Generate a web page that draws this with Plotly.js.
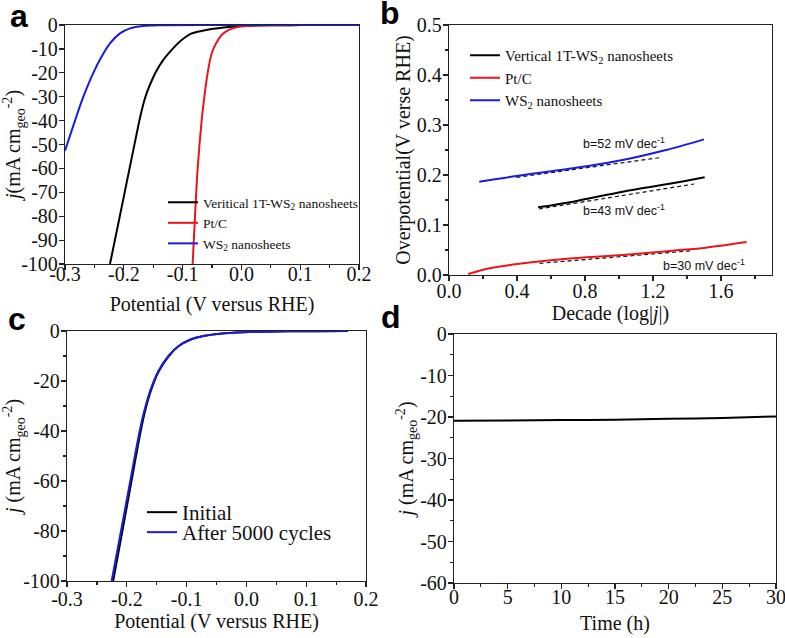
<!DOCTYPE html>
<html>
<head>
<meta charset="utf-8">
<script src="https://cdn.plot.ly/plotly-3.0.1.min.js"></script>
<style>html,body{margin:0;padding:0;background:#fff;}#chart{width:785px;height:638px;}</style>
</head>
<body>
<div id="chart"></div>
<script>
// ---------- Panel a: LSV curves ----------
const aVert_x = [-0.2235, -0.2068, -0.1902, -0.1777, -0.1735, -0.1688, -0.1632, -0.1555, -0.1462, -0.134, -0.117, -0.1016, -0.0845, -0.066, -0.048, -0.03, -0.012, 0.01, 0.035, 0.08, 0.13, 0.2];
const aVert_y = [-100, -80, -60, -45, -40, -35, -30, -25, -20, -15, -10, -6.3, -3.5, -2.4, -1.6, -1.0, -0.6, -0.3, -0.15, -0.07, -0.03, 0];
const aPtC_x = [-0.0829, -0.0789, -0.0744, -0.0676, -0.063, -0.0574, -0.0506, -0.0432, -0.0336, -0.0222, -0.008, 0.009, 0.05, 0.1, 0.2];
const aPtC_y = [-100, -80, -60, -40, -30, -20, -11.9, -7.7, -4.2, -2.1, -1, -0.4, -0.1, -0.05, 0];
const aWS2_x = [-0.3, -0.283, -0.2688, -0.2518, -0.2376, -0.2235, -0.2065, -0.1895, -0.1668, -0.1384, -0.05, 0.2];
const aWS2_y = [-52.6, -40, -30, -20, -13.2, -7.7, -3.5, -1.4, -0.4, -0.1, 0, 0];
const aXTicks = [-0.3, -0.2, -0.1, 0, 0.1, 0.2];
const aXLabels = ["-0.3", "-0.2", "-0.1", "0.0", "0.1", "0.2"];
const aYTicks = [0, -10, -20, -30, -40, -50, -60, -70, -80, -90, -100];
const aYLabels = ["0", "-10", "-20", "-30", "-40", "-50", "-60", "-70", "-80", "-90", "-100"];

// ---------- Panel b: Tafel plots ----------
const bWS2_x = [0.178, 0.397, 0.729, 1.022, 1.276, 1.5];
const bWS2_y = [0.1867, 0.198, 0.2133, 0.23, 0.25, 0.2713];
const bWS2Fit_x = [0.397, 1.252];
const bWS2Fit_y = [0.1953, 0.2353];
const bVert_x = [0.524, 0.729, 1.022, 1.315, 1.504];
const bVert_y = [0.1353, 0.1467, 0.1667, 0.1833, 0.1953];
const bVertFit_x = [0.529, 1.442];
const bVertFit_y = [0.132, 0.182];
const bPtC_x = [0.113, 0.24, 0.436, 0.729, 1.022, 1.315, 1.51, 1.75];
const bPtC_y = [0.002, 0.0133, 0.0233, 0.0333, 0.04, 0.0487, 0.0547, 0.066];
const bPtCFit_x = [0.533, 1.432];
const bPtCFit_y = [0.0233, 0.0487];
const bTafelLabels = ["b=52 mV dec<sup>-1</sup>", "b=43 mV dec<sup>-1</sup>", "b=30 mV dec<sup>-1</sup>"];
const bTafelLabel_x = [1.03, 1.03, 1.5];
const bTafelLabel_y = [0.264, 0.13, 0.021];
const bXTicks = [0, 0.4, 0.8, 1.2, 1.6];
const bXLabels = ["0.0", "0.4", "0.8", "1.2", "1.6"];
const bYTicks = [0, 0.1, 0.2, 0.3, 0.4, 0.5];
const bYLabels = ["0.0", "0.1", "0.2", "0.3", "0.4", "0.5"];

// ---------- Panel c: cycling stability ----------
const cInit_x = [-0.2228, -0.2074, -0.1921, -0.179, -0.1709, -0.16, -0.1465, -0.1301, -0.1136, -0.0942, -0.072, -0.044, -0.005, 0.025, 0.07, 0.12, 0.17];
const cAfter_x = [-0.2253, -0.2097, -0.1942, -0.1808, -0.1724, -0.1612, -0.1473, -0.1306, -0.1139, -0.0943, -0.072, -0.044, -0.005, 0.025, 0.07, 0.12, 0.17];
const cCurrent_y = [-100, -80, -60, -42.8, -33.5, -24.1, -16.1, -10.1, -6.1, -3.5, -2.0, -1.1, -0.5, -0.3, -0.12, -0.05, 0];
const cXTicks = [-0.3, -0.2, -0.1, 0, 0.1, 0.2];
const cXLabels = ["-0.3", "-0.2", "-0.1", "0.0", "0.1", "0.2"];
const cYTicks = [0, -20, -40, -60, -80, -100];
const cYLabels = ["0", "-20", "-40", "-60", "-80", "-100"];

// ---------- Panel d: chronoamperometry ----------
const dTime = [0, 5, 10, 15, 20, 25, 30];
const dCurrent = [-20.9, -20.85, -20.75, -20.65, -20.45, -20.25, -19.85];
const dXTicks = [0, 5, 10, 15, 20, 25, 30];
const dXLabels = ["0", "5", "10", "15", "20", "25", "30"];
const dYTicks = [0, -10, -20, -30, -40, -50, -60];
const dYLabels = ["0", "-10", "-20", "-30", "-40", "-50", "-60"];

const SERIF = "Liberation Serif, Times New Roman, serif";
const SANS = "Liberation Sans, Arial, sans-serif";
const BLACK = "#000000", RED = "#e8161c", BLUE = "#1a1ae0";

function line(x, y, color, name, xa, ya, legend, extra) {
  return Object.assign({
    type: "scatter", mode: "lines", x: x, y: y, name: name,
    xaxis: xa, yaxis: ya, legend: legend,
    line: {color: color, width: 2, shape: "spline", smoothing: 0.8},
    hoverinfo: "skip"
  }, extra || {});
}
function fit(x, y, xa, ya) {
  return {type: "scatter", mode: "lines", x: x, y: y, xaxis: xa, yaxis: ya,
    showlegend: false, line: {color: "#111", width: 1.2, dash: "4px,3px"}, hoverinfo: "skip"};
}

const traces = [
  line(aVert_x, aVert_y, BLACK, "Veritical 1T-WS<sub>2</sub> nanosheets", "x", "y", "legend"),
  line(aPtC_x, aPtC_y, RED, "Pt/C", "x", "y", "legend"),
  line(aWS2_x, aWS2_y, BLUE, "WS<sub>2</sub> nanosheets", "x", "y", "legend"),

  fit(bWS2Fit_x, bWS2Fit_y, "x2", "y2"),
  fit(bVertFit_x, bVertFit_y, "x2", "y2"),
  fit(bPtCFit_x, bPtCFit_y, "x2", "y2"),
  line(bVert_x, bVert_y, BLACK, "Vertical 1T-WS<sub>2</sub> nanosheets", "x2", "y2", "legend2"),
  line(bPtC_x, bPtC_y, RED, "Pt/C", "x2", "y2", "legend2"),
  line(bWS2_x, bWS2_y, BLUE, "WS<sub>2</sub> nanosheets", "x2", "y2", "legend2"),

  line(cInit_x, cCurrent_y, BLACK, "Initial", "x3", "y3", "legend3"),
  line(cAfter_x, cCurrent_y, "#1c1cd8", "After 5000 cycles", "x3", "y3", "legend4"),

  line(dTime, dCurrent, BLACK, "Stability", "x4", "y4", "legend", {showlegend: false})
];

function ax(opts) {
  return Object.assign({
    showgrid: false, zeroline: false, showline: true, mirror: true,
    linecolor: "#222", linewidth: 1.2,
    ticks: "outside", ticklen: 5, tickwidth: 1.2, tickcolor: "#222",
    tickmode: "array", ticklabeloverflow: "allow",
    tickfont: {family: SERIF, size: 20, color: "#111"},
    automargin: false, fixedrange: true
  }, opts);
}
function ttl(text, standoff) {
  return {text: text, font: {family: SERIF, size: 20, color: "#111"}, standoff: standoff};
}
const W = 785, H = 638;
function xd(l, r) { return [l / W, r / W]; }
function yd(t, b) { return [(H - b) / H, (H - t) / H]; }

const minorTicks = (d) => ({tickmode: "linear", tick0: 0, dtick: d, ticks: "outside", ticklen: 3, tickwidth: 1.2, tickcolor: "#222"});

const layout = {
  width: W, height: H,
  margin: {l: 0, r: 0, t: 0, b: 0},
  paper_bgcolor: "#ffffff", plot_bgcolor: "#ffffff",
  showlegend: true,
  xaxis: ax({domain: xd(65, 359), range: [-0.3, 0.2], tickvals: aXTicks, ticktext: aXLabels, ticklabelstandoff: -13,
    minor: minorTicks(0.05), anchor: "y", title: ttl("Potential (V versus RHE)", 12)}),
  yaxis: ax({domain: yd(25, 264), range: [-100, 0], tickvals: aYTicks, ticktext: aYLabels, ticklabelstandoff: -3, anchor: "x",
    title: ttl("<i>j</i>(mA cm<sub>geo</sub><sup>-2</sup>)", 0)}),
  xaxis2: ax({domain: xd(449, 772), range: [0, 1.9], tickvals: bXTicks, ticktext: bXLabels, ticklabelstandoff: -7,
    minor: minorTicks(0.2), anchor: "y2", title: ttl("Decade (log|<i>j</i>|)", 3)}),
  yaxis2: ax({domain: yd(25, 275), range: [0, 0.5], tickvals: bYTicks, ticktext: bYLabels, ticklabelstandoff: -3,
    minor: minorTicks(0.05), anchor: "x2", title: ttl("Overpotential(V verse RHE)", 0)}),
  xaxis3: ax({domain: xd(67, 366), range: [-0.3, 0.2], tickvals: cXTicks, ticktext: cXLabels, ticklabelstandoff: -5,
    minor: minorTicks(0.05), anchor: "y3", title: ttl("Potential (V versus RHE)", 3)}),
  yaxis3: ax({domain: yd(331, 581), range: [-100, 0], tickvals: cYTicks, ticktext: cYLabels, ticklabelstandoff: -3,
    minor: minorTicks(10), anchor: "x3", title: ttl("<i>j</i> (mA cm<sub>geo</sub><sup>-2</sup>)", 0)}),
  xaxis4: ax({domain: xd(454, 776), range: [0, 30], tickvals: dXTicks, ticktext: dXLabels, ticklabelstandoff: -9,
    minor: minorTicks(2.5), anchor: "y4", title: ttl("Time (h)", 8)}),
  yaxis4: ax({domain: yd(334, 583), range: [-60, 0], tickvals: dYTicks, ticktext: dYLabels, ticklabelstandoff: -3,
    minor: minorTicks(5), anchor: "x4", title: ttl("<i>j</i> (mA cm<sub>geo</sub><sup>-2</sup>)", 0)}),
  legend: {x: 163 / W, y: (H - 187) / H, xanchor: "left", yanchor: "top", bgcolor: "rgba(0,0,0,0)",
    font: {family: SERIF, size: 13.5, color: "#111"}, tracegroupgap: 0},
  legend2: {x: 465 / W, y: (H - 39) / H, xanchor: "left", yanchor: "top", bgcolor: "rgba(0,0,0,0)",
    font: {family: SERIF, size: 15, color: "#111"}, tracegroupgap: 0},
  legend3: {x: 142 / W, y: (H - 492) / H, xanchor: "left", yanchor: "top", bgcolor: "rgba(0,0,0,0)",
    font: {family: SERIF, size: 21, color: "#111"}},
  legend4: {x: 142 / W, y: (H - 512) / H, xanchor: "left", yanchor: "top", bgcolor: "rgba(0,0,0,0)",
    font: {family: SERIF, size: 21, color: "#111"}},
  annotations: [
    {text: "<b>a</b>", xref: "paper", yref: "paper", x: 8 / W, y: (H - 16) / H, xanchor: "left", yanchor: "middle", showarrow: false, font: {family: SANS, size: 32, color: "#000"}},
    {text: "<b>b</b>", xref: "paper", yref: "paper", x: 378 / W, y: (H - 13) / H, xanchor: "left", yanchor: "middle", showarrow: false, font: {family: SANS, size: 32, color: "#000"}},
    {text: "<b>c</b>", xref: "paper", yref: "paper", x: 6 / W, y: (H - 319) / H, xanchor: "left", yanchor: "middle", showarrow: false, font: {family: SANS, size: 32, color: "#000"}},
    {text: "<b>d</b>", xref: "paper", yref: "paper", x: 379 / W, y: (H - 317) / H, xanchor: "left", yanchor: "middle", showarrow: false, font: {family: SANS, size: 32, color: "#000"}}
  ].concat(bTafelLabels.map((t, i) => ({
    text: t, xref: "x2", yref: "y2", x: bTafelLabel_x[i], y: bTafelLabel_y[i],
    xanchor: "center", yanchor: "middle", showarrow: false,
    font: {family: SANS, size: 12.5, color: "#111"}
  })))
};

Plotly.newPlot("chart", traces, layout, {staticPlot: true, displayModeBar: false});
</script>
</body>
</html>
